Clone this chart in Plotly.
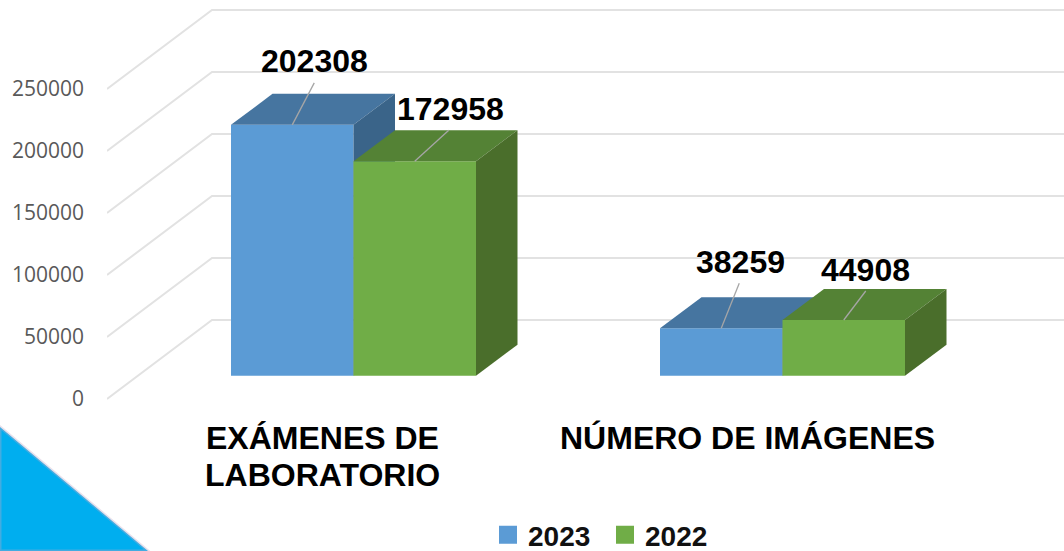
import plotly.graph_objects as go

# ---- data ----
categories = ["EXÁMENES DE<br>LABORATORIO", "NÚMERO DE IMÁGENES"]
series_names = ["2023", "2022"]
values_2023 = [202308, 38259]
values_2022 = [172958, 44908]
tick_values = [0, 50000, 100000, 150000, 200000, 250000]

# ---- geometry of the reference (pixels per unit and 3-D offsets) ----
W, H = 1064, 551
PLOT_LEFT = 107
PX_PER_VALUE = 0.00124
ZERO_PX = 399
CAT0_PX, CAT_STEP_PX = 353.5, 429
BAR_W_PX = 122.5
BAR_FLOOR_PX = 375.7
BAR_DEPTH = (41.5, 31)
WALL_DEPTH = (105, 79)

xu = lambda px: px / CAT_STEP_PX            # pixel length -> x units
yu = lambda px: px / PX_PER_VALUE           # pixel length -> value units
x_range = [(PLOT_LEFT - CAT0_PX) / CAT_STEP_PX, (W - CAT0_PX) / CAT_STEP_PX]
y_range = [yu(ZERO_PX - H), yu(ZERO_PX)]
base = yu(ZERO_PX - BAR_FLOOR_PX)
bw = xu(BAR_W_PX)
ddx, ddy = xu(BAR_DEPTH[0]), yu(BAR_DEPTH[1])

GRID = "#E2E2E2"
FAMILY = "Liberation Sans"
STYLE = {
    "2023": dict(front="#5B9BD5", top="#4675A0", side="#3A6489"),
    "2022": dict(front="#70AD47", top="#548235", side="#4A6E2B"),
}

fig = go.Figure()

# walls: gridlines from the side wall onto the back wall
wx0, wx1, wx2 = x_range[0], x_range[0] + xu(WALL_DEPTH[0]), x_range[1]
for t in tick_values:
    fig.add_trace(go.Scatter(
        x=[wx0, wx1, wx2], y=[t, t + yu(WALL_DEPTH[1]), t + yu(WALL_DEPTH[1])],
        mode="lines", line=dict(color=GRID, width=2), hoverinfo="skip",
        showlegend=False, zorder=0))

# bars with their 3-D faces
for s, (name, vals) in enumerate(zip(series_names, [values_2023, values_2022])):
    st = STYLE[name]
    z = 1 + 2 * s
    offset = (-1 if s == 0 else 0) * bw
    fig.add_trace(go.Bar(
        x=[i + offset + bw / 2 for i in range(len(vals))], y=vals, base=base, width=bw,
        marker=dict(color=st["front"], line=dict(width=0)),
        showlegend=False, zorder=z))
    for i, v in enumerate(vals):
        xl = i + offset
        xr = xl + bw
        yt = base + v
        fig.add_trace(go.Scatter(
            x=[xl, xl + ddx, xr + ddx, xr, xl], y=[yt, yt + ddy, yt + ddy, yt, yt],
            fill="toself", fillcolor=st["top"], mode="lines", line=dict(width=0),
            hoverinfo="skip", showlegend=False, zorder=z))
        fig.add_trace(go.Scatter(
            x=[xr, xr + ddx, xr + ddx, xr, xr],
            y=[yt, yt + ddy, base + ddy, base, yt],
            fill="toself", fillcolor=st["side"], mode="lines", line=dict(width=0),
            hoverinfo="skip", showlegend=False, zorder=z))

# data labels with leader lines: (series, category) -> label offset in pixels from bar top centre
label_offsets = {
    (0, 0): (22, 64, 22, 42),
    (1, 0): (36, 52, 34, 31),
    (0, 1): (19, 66, 18, 45),
    (1, 1): (22, 50, 22, 29),
}
for s, vals in enumerate([values_2023, values_2022]):
    offset = (-1 if s == 0 else 0) * bw
    for i, v in enumerate(vals):
        cx = i + offset + bw / 2
        yt = base + v
        tx, ty, lx, ly = label_offsets[(s, i)]
        fig.add_trace(go.Scatter(
            x=[cx, cx + xu(lx)], y=[yt, yt + yu(ly)], mode="lines",
            line=dict(color="#A6A6A6", width=1.3), hoverinfo="skip",
            showlegend=False, zorder=5))
        fig.add_annotation(
            x=cx + xu(tx), y=yt + yu(ty), text=str(v), showarrow=False,
            xanchor="center", yanchor="middle",
            font=dict(family=FAMILY, size=32, color="black", weight="bold"))

# category labels
for i, c in enumerate(categories):
    lines = c.split("<br>")
    for j, line in enumerate(lines):
        fig.add_annotation(
            x=i + xu(-31 if i == 0 else -35), y=yu(ZERO_PX - 438 - 37 * j), text=line,
            showarrow=False, xanchor="center", yanchor="middle",
            font=dict(family=FAMILY, size=32, color="black", weight="bold"))

# legend entries
for name in series_names:
    c = STYLE[name]["front"]
    fig.add_trace(go.Scatter(
        x=[None], y=[None], mode="markers", name=name,
        marker=dict(symbol="square", size=16, color=c, line=dict(color=c, width=2))))

# decorative corner triangle
to_paper_x = lambda px: (px - PLOT_LEFT) / (W - PLOT_LEFT)
to_paper_y = lambda px: 1 - px / H
corner = [(0, 427), (148, 551), (0, 551)]
path = "M " + " L ".join(f"{to_paper_x(a)},{to_paper_y(b)}" for a, b in corner) + " Z"
fig.add_shape(type="path", xref="paper", yref="paper", path=path,
              fillcolor="#00AEEF", line=dict(color="rgba(190,170,200,0.35)", width=3),
              layer="above")

fig.update_layout(
    width=W, height=H, autosize=False,
    margin=dict(l=PLOT_LEFT, r=0, t=0, b=0, pad=0, autoexpand=False),
    paper_bgcolor="white", plot_bgcolor="white",
    barmode="overlay", hovermode=False,
    showlegend=True,
    legend=dict(orientation="h", x=to_paper_x(488), xanchor="left",
                y=to_paper_y(535), yanchor="middle",
                bgcolor="rgba(0,0,0,0)", borderwidth=0,
                font=dict(family=FAMILY, size=28, color="#111111", weight="bold"),
                itemwidth=30, entrywidth=72, entrywidthmode="pixels", tracegroupgap=0),
    xaxis=dict(range=x_range, visible=False, fixedrange=True),
    yaxis=dict(range=y_range, tickmode="array", tickvals=tick_values,
               ticktext=[str(t) for t in tick_values], showgrid=False, zeroline=False,
               showline=False, ticks="", ticklabelstandoff=22, fixedrange=True,
               tickfont=dict(family="Open Sans", size=21, color="#595959")),
)

fig.write_html("out.html", config={"displayModeBar": False},
               post_script="document.body.style.margin='0';")
